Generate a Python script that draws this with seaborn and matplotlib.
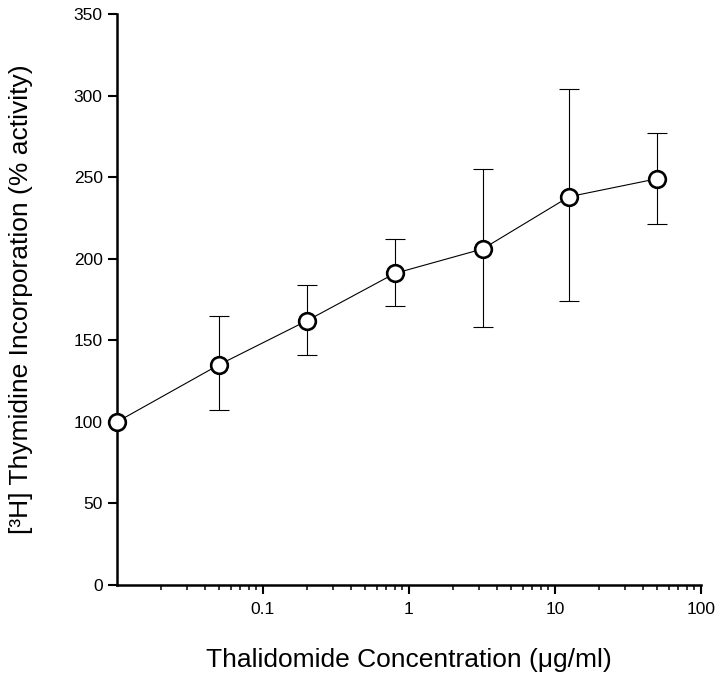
import numpy as np
import pandas as pd
import matplotlib
matplotlib.use("Agg")
import matplotlib.pyplot as plt
import matplotlib.ticker as mticker
import seaborn as sns

concentration = [0.01, 0.05, 0.2, 0.8, 3.2, 12.5, 50]
activity = [100, 135, 162, 191, 206, 238, 249]
err_upper = [100, 165, 184, 212, 255, 304, 277]
err_lower = [100, 107, 141, 171, 158, 174, 221]

x_tick_values = [0.1, 1, 10, 100]
x_tick_labels = ["0.1", "1", "10", "100"]
y_tick_values = [0, 50, 100, 150, 200, 250, 300, 350]

sns.set_style("ticks")
plt.rcParams['font.family'] = ['Liberation Sans', 'DejaVu Sans']

df = pd.DataFrame({"conc": concentration, "act": activity})

fig = plt.figure(figsize=(7.2, 6.75), dpi=100)
ax = fig.add_axes([0.1625, 0.1333, 0.811, 0.846])

# Планки погрешностей (асимметричные)
yerr = np.array([np.array(activity) - np.array(err_lower),
                 np.array(err_upper) - np.array(activity)])
ax.errorbar(concentration[1:], activity[1:], yerr=yerr[:, 1:], fmt="none",
            ecolor="black", elinewidth=0.8, capsize=7, capthick=0.8, zorder=2)

sns.lineplot(data=df, x="conc", y="act", ax=ax, color="black", linewidth=0.8,
             marker="o", markersize=12, markerfacecolor="white",
             markeredgecolor="black", markeredgewidth=1.9, zorder=3, clip_on=False)

ax.set_xscale("log")
ax.set_xlim(0.01, 100)
ax.set_ylim(0, 350)
ax.set_xticks(x_tick_values)
ax.set_xticklabels(x_tick_labels)
ax.xaxis.set_minor_locator(mticker.LogLocator(base=10, subs=np.arange(2, 10)))
ax.xaxis.set_minor_formatter(mticker.NullFormatter())
ax.set_yticks(y_tick_values)

for side in ["top", "right"]:
    ax.spines[side].set_visible(False)
for side in ["left", "bottom"]:
    ax.spines[side].set_linewidth(1.8)
    ax.spines[side].set_color("black")

ax.tick_params(axis="both", which="major", direction="out", length=6.8, width=1.5,
               labelsize=12.5, pad=3.5, colors="black")
ax.tick_params(axis="x", which="major", pad=5.5)
ax.tick_params(axis="x", which="minor", direction="out", length=3.6, width=1.3)

ax.set_xlabel("Thalidomide Concentration (μg/ml)", fontsize=19, labelpad=22,
              color="black")
ax.set_ylabel("[³H] Thymidine Incorporation (% activity)", fontsize=19,
              labelpad=29, color="black")

fig.savefig("out.png", dpi=100)
